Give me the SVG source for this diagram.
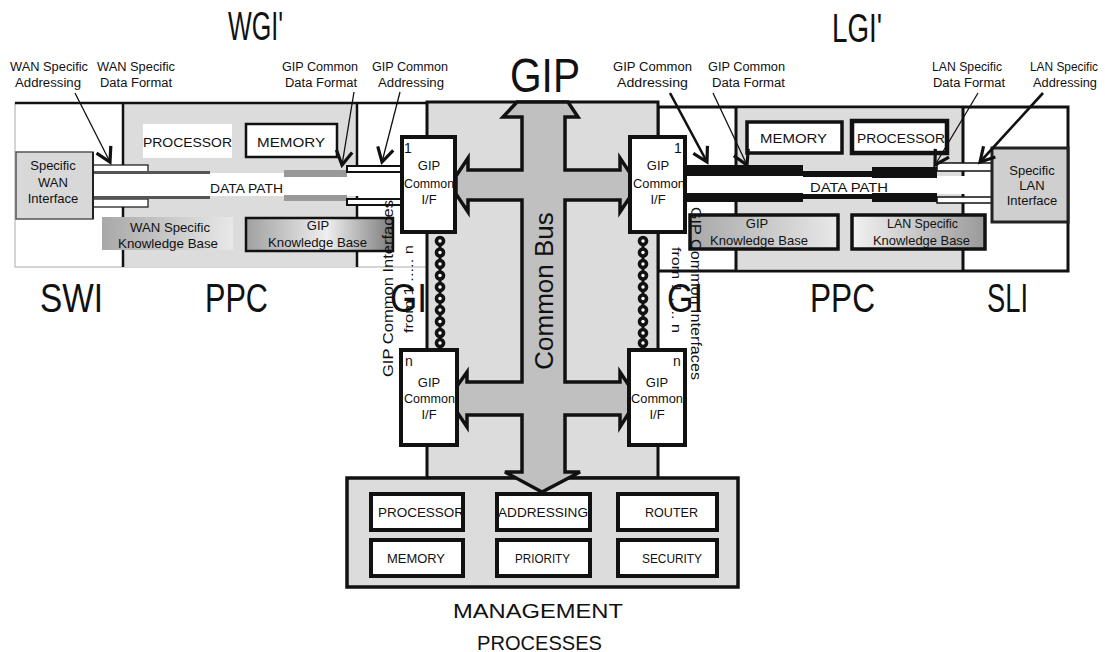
<svg xmlns="http://www.w3.org/2000/svg" width="1105" height="652" viewBox="0 0 1105 652">
<defs>
<style>
text{font-family:"Liberation Sans",Arial,sans-serif;fill:#111}
.lbl{font-size:12px}
.big{font-size:40px}
.sm{font-size:13px}
.box{fill:#fff;stroke:#111;stroke-width:3.5}
.ifc{fill:#fff;stroke:#111;stroke-width:4}
.thin{stroke:#111;stroke-width:1.3;fill:none}
.thick{stroke:#111;stroke-width:2.6;fill:none}
.div{stroke:#111;stroke-width:2.5}
</style>
<marker id="v" viewBox="-16 -10 20 20" markerWidth="20" markerHeight="20" refX="0" refY="0" orient="auto" markerUnits="userSpaceOnUse">
<path d="M-14,-8 L0,0 L-14,8" fill="none" stroke="#111" stroke-width="3.2"/>
</marker>
<linearGradient id="gL" x1="0" x2="1" y1="0" y2="0"><stop offset="0" stop-color="#a8a8a8"/><stop offset="1" stop-color="#e8e8e8"/></linearGradient>
<linearGradient id="gR" x1="0" x2="1" y1="0" y2="0"><stop offset="0" stop-color="#f2f2f2"/><stop offset="1" stop-color="#9a9a9a"/></linearGradient>
<linearGradient id="gM" x1="0" x2="1" y1="0" y2="0"><stop offset="0" stop-color="#a0a0a0"/><stop offset="0.55" stop-color="#efefef"/><stop offset="1" stop-color="#7a7a7a"/></linearGradient>
<g id="bead"><circle r="5.3" fill="#111"/><circle r="1.7" fill="#fff"/></g>
</defs>
<rect width="1105" height="652" fill="#fff"/>

<!-- big titles -->
<text class="big" x="228" y="40" textLength="55" lengthAdjust="spacingAndGlyphs">WGI'</text>
<text class="big" x="832" y="42" textLength="50" lengthAdjust="spacingAndGlyphs">LGI'</text>
<text x="510" y="92" style="font-size:48px" textLength="70" lengthAdjust="spacingAndGlyphs">GIP</text>

<!-- WGI' region -->
<g id="wgi">
<rect x="15" y="103" width="412" height="164" fill="#fff" stroke="#aaa" stroke-width="1"/>
<rect x="123" y="103" width="234" height="164" fill="#dcdcdc"/>
<line x1="15" y1="103" x2="427" y2="103" class="div"/>
<line x1="123" y1="103" x2="123" y2="267" class="div"/>
<line x1="357" y1="103" x2="357" y2="267" class="div"/>
<rect x="143" y="124" width="89" height="34" fill="#fff"/>
<rect x="246" y="124" width="91" height="33" fill="#fff" stroke="#111" stroke-width="2.5"/>
<rect x="102" y="217" width="131" height="33" fill="url(#gL)"/>
<rect x="246" y="218" width="147" height="33" fill="url(#gM)" stroke="#111" stroke-width="2.5"/>
<!-- data path -->
<rect x="93" y="173" width="309" height="23" fill="#fff"/>
<rect x="93" y="165" width="55" height="7" fill="#fff" stroke="#111" stroke-width="1.2"/>
<rect x="93" y="199" width="55" height="8" fill="#fff" stroke="#111" stroke-width="1.2"/>
<rect x="93" y="171" width="117" height="3" fill="#555"/>
<rect x="93" y="196" width="117" height="3" fill="#555"/>
<rect x="284" y="170" width="63" height="7" fill="#999"/>
<rect x="284" y="195" width="63" height="6" fill="#999"/>
<rect x="347" y="166" width="55" height="6" fill="#fff" stroke="#111" stroke-width="2"/>
<rect x="347" y="199" width="55" height="6" fill="#fff" stroke="#111" stroke-width="2"/>
<rect x="16" y="152" width="77" height="67" fill="#d8d8d8" stroke="#555" stroke-width="1.5"/>
<line x1="93" y1="152" x2="93" y2="219" stroke="#222" stroke-width="2"/>
</g>

<!-- LGI' region -->
<g id="lgi">
<rect x="658" y="107" width="410" height="164" fill="#fff" stroke="#111" stroke-width="3"/>
<rect x="736" y="108.5" width="227" height="161" fill="#dcdcdc"/>
<line x1="736" y1="107" x2="736" y2="271" stroke="#111" stroke-width="3"/>
<line x1="963" y1="107" x2="963" y2="271" stroke="#111" stroke-width="3"/>
<rect x="747" y="122" width="95" height="31" class="box"/>
<rect x="852" y="121" width="95" height="32" fill="#fff" stroke="#111" stroke-width="4.5"/>
<rect x="690" y="215" width="148" height="34" fill="url(#gL)" stroke="#111" stroke-width="3.5"/>
<rect x="852" y="215" width="133" height="34" fill="url(#gR)" stroke="#111" stroke-width="3.5"/>
<!-- data path -->
<rect x="685" y="176" width="307" height="18" fill="#fff"/>
<rect x="685" y="165" width="118" height="11" fill="#111"/>
<rect x="803" y="171" width="69" height="6" fill="#111"/>
<rect x="872" y="167" width="65" height="11" fill="#111"/>
<rect x="685" y="193" width="118" height="9" fill="#111"/>
<rect x="803" y="194" width="69" height="5" fill="#111"/>
<rect x="872" y="193" width="65" height="9" fill="#111"/>
<rect x="937" y="163" width="55" height="8" fill="#fff" stroke="#111" stroke-width="1.5"/>
<rect x="937" y="197" width="55" height="6" fill="#fff" stroke="#111" stroke-width="1.5"/>
<rect x="992" y="148" width="76" height="74" fill="#cfcfcf" stroke="#222" stroke-width="3"/>
</g>

<!-- GIP bus box -->
<g id="gip">
<rect x="427" y="102" width="231" height="376" fill="#dcdcdc" stroke="#111" stroke-width="3"/>
</g>

<!-- management processes -->
<g id="mgmt">
<rect x="347" y="478" width="391" height="109" fill="#dcdcdc" stroke="#111" stroke-width="3.5"/>
<rect x="371" y="494" width="92" height="36" class="ifc"/>
<rect x="497" y="494" width="93" height="36" class="ifc"/>
<rect x="618" y="494" width="99" height="36" class="ifc"/>
<rect x="371" y="540" width="92" height="36" class="ifc"/>
<rect x="497" y="540" width="93" height="36" class="ifc"/>
<rect x="618" y="540" width="99" height="36" class="ifc"/>
<text class="sm" x="378" y="517" textLength="86" lengthAdjust="spacingAndGlyphs">PROCESSOR</text>
<text class="sm" x="498" y="517" textLength="90" lengthAdjust="spacingAndGlyphs">ADDRESSING</text>
<text class="sm" x="645" y="517" textLength="53" lengthAdjust="spacingAndGlyphs">ROUTER</text>
<text class="sm" x="387" y="563" textLength="58" lengthAdjust="spacingAndGlyphs">MEMORY</text>
<text class="sm" x="515" y="563" textLength="55" lengthAdjust="spacingAndGlyphs">PRIORITY</text>
<text class="sm" x="642" y="563" textLength="60" lengthAdjust="spacingAndGlyphs">SECURITY</text>
<text x="453" y="618" style="font-size:21px" textLength="170" lengthAdjust="spacingAndGlyphs">MANAGEMENT</text>
<text x="477" y="650" style="font-size:21px" textLength="125" lengthAdjust="spacingAndGlyphs">PROCESSES</text>
</g>

<!-- common bus arrow -->
<g id="bus">
<path d="M522,117 L503,117 L517,102 L568,102 L578,117 L565,117 L565,170 L620,170 L620,158 L632,176 L632,194 L620,212 L620,200 L565,200 L565,382 L620,382 L620,372 L632,390 L632,408 L620,427 L620,415 L565,415 L565,472 L580,472 L542,492 L505,472 L522,472 L522,415 L467,415 L467,427 L455,409 L455,389 L467,372 L467,382 L522,382 L522,200 L468,200 L468,212 L456,194 L456,176 L468,158 L468,170 L522,170 Z" fill="#c0c0c0" stroke="#111" stroke-width="3.5" stroke-linejoin="miter"/>
<text transform="translate(553,291) rotate(-90)" text-anchor="middle" style="font-size:26px">Common Bus</text>
</g>

<!-- GIP common interfaces -->
<g id="if1L">
<rect x="402" y="137" width="53" height="95" class="ifc"/>
<text x="404" y="153" style="font-size:14px">1</text>
<text class="sm" x="429" y="170" text-anchor="middle">GIP</text>
<text class="sm" x="404" y="188" textLength="50" lengthAdjust="spacingAndGlyphs">Common</text>
<text class="sm" x="429" y="204" text-anchor="middle">I/F</text>
</g>
<g id="if1R">
<rect x="630" y="137" width="55" height="95" class="ifc"/>
<text x="674" y="153" style="font-size:14px">1</text>
<text class="sm" x="658" y="170" text-anchor="middle">GIP</text>
<text class="sm" x="633" y="188" textLength="52" lengthAdjust="spacingAndGlyphs">Common</text>
<text class="sm" x="658" y="204" text-anchor="middle">I/F</text>
</g>
<g id="ifnL">
<rect x="401" y="350" width="56" height="95" class="ifc"/>
<text x="405" y="366" style="font-size:14px">n</text>
<text class="sm" x="429" y="387" text-anchor="middle">GIP</text>
<text class="sm" x="404" y="403" textLength="51" lengthAdjust="spacingAndGlyphs">Common</text>
<text class="sm" x="429" y="419" text-anchor="middle">I/F</text>
</g>
<g id="ifnR">
<rect x="629" y="350" width="56" height="95" class="ifc"/>
<text x="673" y="366" style="font-size:14px">n</text>
<text class="sm" x="657" y="387" text-anchor="middle">GIP</text>
<text class="sm" x="631" y="403" textLength="52" lengthAdjust="spacingAndGlyphs">Common</text>
<text class="sm" x="657" y="419" text-anchor="middle">I/F</text>
</g>

<!-- bead chains -->
<g id="chains">
<line x1="440" y1="238" x2="440" y2="344" stroke="#111" stroke-width="3"/>
<use href="#bead" x="440" y="241"/><use href="#bead" x="440" y="252.5"/><use href="#bead" x="440" y="264"/><use href="#bead" x="440" y="275.5"/><use href="#bead" x="440" y="287"/><use href="#bead" x="440" y="298.5"/><use href="#bead" x="440" y="310"/><use href="#bead" x="440" y="321.5"/><use href="#bead" x="440" y="333"/><use href="#bead" x="440" y="343"/>
<line x1="643" y1="238" x2="643" y2="344" stroke="#111" stroke-width="3"/>
<use href="#bead" x="643" y="241"/><use href="#bead" x="643" y="252.5"/><use href="#bead" x="643" y="264"/><use href="#bead" x="643" y="275.5"/><use href="#bead" x="643" y="287"/><use href="#bead" x="643" y="298.5"/><use href="#bead" x="643" y="310"/><use href="#bead" x="643" y="321.5"/><use href="#bead" x="643" y="333"/><use href="#bead" x="643" y="343"/>
</g>

<!-- region texts -->
<g id="texts">
<text class="sm" x="143" y="147" textLength="89" lengthAdjust="spacingAndGlyphs">PROCESSOR</text>
<text class="sm" x="257" y="147" textLength="68" lengthAdjust="spacingAndGlyphs">MEMORY</text>
<text class="sm" x="210" y="193" textLength="73" lengthAdjust="spacingAndGlyphs">DATA PATH</text>
<text class="sm" x="130" y="232" textLength="80" lengthAdjust="spacingAndGlyphs">WAN Specific</text>
<text class="sm" x="118" y="248" textLength="100" lengthAdjust="spacingAndGlyphs">Knowledge Base</text>
<text class="sm" x="318" y="230" text-anchor="middle">GIP</text>
<text class="sm" x="268" y="247" textLength="99" lengthAdjust="spacingAndGlyphs">Knowledge Base</text>
<text class="sm" x="53" y="170" text-anchor="middle">Specific</text>
<text class="sm" x="53" y="187" text-anchor="middle">WAN</text>
<text class="sm" x="53" y="203" text-anchor="middle">Interface</text>

<text class="sm" x="760" y="143" textLength="67" lengthAdjust="spacingAndGlyphs">MEMORY</text>
<text class="sm" x="857" y="143" textLength="88" lengthAdjust="spacingAndGlyphs">PROCESSOR</text>
<text class="sm" x="810" y="192" textLength="78" lengthAdjust="spacingAndGlyphs">DATA PATH</text>
<text class="sm" x="757" y="228" text-anchor="middle">GIP</text>
<text class="sm" x="710" y="245" textLength="98" lengthAdjust="spacingAndGlyphs">Knowledge Base</text>
<text class="sm" x="887" y="228" textLength="71" lengthAdjust="spacingAndGlyphs">LAN Specific</text>
<text class="sm" x="873" y="245" textLength="97" lengthAdjust="spacingAndGlyphs">Knowledge Base</text>
<text class="sm" x="1032" y="175" text-anchor="middle">Specific</text>
<text class="sm" x="1032" y="190" text-anchor="middle">LAN</text>
<text class="sm" x="1032" y="205" text-anchor="middle">Interface</text>

<text class="big" x="40" y="312" textLength="63" lengthAdjust="spacingAndGlyphs">SWI</text>
<text class="big" x="205" y="312" textLength="63" lengthAdjust="spacingAndGlyphs">PPC</text>
<text class="big" x="390" y="312" textLength="37" lengthAdjust="spacingAndGlyphs">GI</text>
<text class="big" x="667" y="312" textLength="36" lengthAdjust="spacingAndGlyphs">GI</text>
<text class="big" x="810" y="312" textLength="65" lengthAdjust="spacingAndGlyphs">PPC</text>
<text class="big" x="987" y="312" textLength="41" lengthAdjust="spacingAndGlyphs">SLI</text>

<text transform="translate(393,377) rotate(-90)" style="font-size:15px" textLength="177" lengthAdjust="spacingAndGlyphs">GIP Common Interfaces</text>
<text transform="translate(413,333) rotate(-90)" style="font-size:13px" textLength="88" lengthAdjust="spacingAndGlyphs">from 1 ..... n</text>
<text transform="translate(691,207) rotate(90)" style="font-size:15px" textLength="173" lengthAdjust="spacingAndGlyphs">GIP Common Interfaces</text>
<text transform="translate(672,247) rotate(90)" style="font-size:13px" textLength="86" lengthAdjust="spacingAndGlyphs">from 1 ..... n</text>

<text class="lbl" x="10" y="71" textLength="78" lengthAdjust="spacingAndGlyphs">WAN Specific</text>
<text class="lbl" x="15" y="87" textLength="66" lengthAdjust="spacingAndGlyphs">Addressing</text>
<text class="lbl" x="97" y="71" textLength="78" lengthAdjust="spacingAndGlyphs">WAN Specific</text>
<text class="lbl" x="100" y="87" textLength="72" lengthAdjust="spacingAndGlyphs">Data Format</text>
<text class="lbl" x="282" y="71" textLength="76" lengthAdjust="spacingAndGlyphs">GIP Common</text>
<text class="lbl" x="285" y="87" textLength="72" lengthAdjust="spacingAndGlyphs">Data Format</text>
<text class="lbl" x="372" y="71" textLength="76" lengthAdjust="spacingAndGlyphs">GIP Common</text>
<text class="lbl" x="378" y="87" textLength="66" lengthAdjust="spacingAndGlyphs">Addressing</text>
<text class="lbl" x="613" y="71" textLength="79" lengthAdjust="spacingAndGlyphs">GIP Common</text>
<text class="lbl" x="617" y="87" textLength="71" lengthAdjust="spacingAndGlyphs">Addressing</text>
<text class="lbl" x="708" y="71" textLength="77" lengthAdjust="spacingAndGlyphs">GIP Common</text>
<text class="lbl" x="712" y="87" textLength="73" lengthAdjust="spacingAndGlyphs">Data Format</text>
<text class="lbl" x="932" y="71" textLength="70" lengthAdjust="spacingAndGlyphs">LAN Specific</text>
<text class="lbl" x="933" y="87" textLength="72" lengthAdjust="spacingAndGlyphs">Data Format</text>
<text class="lbl" x="1030" y="71" textLength="68" lengthAdjust="spacingAndGlyphs">LAN Specific</text>
<text class="lbl" x="1033" y="87" textLength="64" lengthAdjust="spacingAndGlyphs">Addressing</text>
</g>

<!-- connectors -->
<g id="connectors">
<line x1="75" y1="93" x2="110" y2="162" class="thin" marker-end="url(#v)"/>
<line x1="354" y1="92" x2="342" y2="165" class="thin" marker-end="url(#v)"/>
<line x1="400" y1="92" x2="382" y2="162" class="thin" marker-end="url(#v)"/>
<line x1="670" y1="93" x2="707" y2="162" class="thick" marker-end="url(#v)"/>
<line x1="713" y1="93" x2="747" y2="165" class="thin" marker-end="url(#v)"/>
<line x1="978" y1="93" x2="935" y2="165" class="thin" marker-end="url(#v)"/>
<line x1="1043" y1="93" x2="980" y2="162" class="thick" marker-end="url(#v)"/>
</g>
</svg>
